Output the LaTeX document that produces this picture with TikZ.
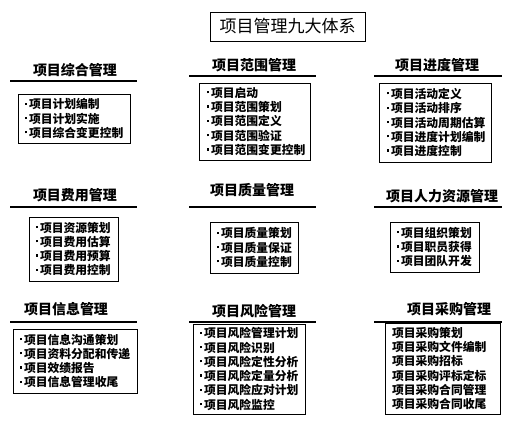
\documentclass[tikz,border=0pt]{standalone}
\usepackage{fontspec}
\setmainfont{Noto Sans CJK SC}
\newfontfamily\cjk{Noto Sans CJK SC}
\begin{document}
\begin{tikzpicture}[x=1pt,y=-1pt,
  titlebox/.style={draw,line width=0.9pt,inner sep=0pt,font=\cjk\fontsize{17}{20}\selectfont},
  heading/.style={inner sep=0pt,font=\cjk\bfseries\fontsize{14}{16}\selectfont},
  rule/.style={line width=1.2pt},
  itembox/.style={draw,line width=0.9pt,inner ysep=0pt,inner xsep=7pt,align=left,
    font=\cjk\bfseries\fontsize{11.8}{14.3}\selectfont}]
\useasboundingbox (0,0) rectangle (523,422);
\newcommand{\bt}{\makebox[4pt][l]{\rule[4pt]{2.2pt}{2.2pt}}}
% title
\node[titlebox,minimum width=155pt,minimum height=29pt] (title) at (287.5,26.5) {项目管理九大体系};
% headings
\node[heading] (h11) at (75,70) {项目综合管理};
\node[heading] (h12) at (254,65) {项目范围管理};
\node[heading] (h13) at (437,65) {项目进度管理};
\node[heading] (h21) at (75,195) {项目费用管理};
\node[heading] (h22) at (252,190) {项目质量管理};
\node[heading] (h23) at (442,196) {项目人力资源管理};
\node[heading] (h31) at (66,309) {项目信息管理};
\node[heading] (h32) at (254,311) {项目风险管理};
\node[heading] (h33) at (449,309) {项目采购管理};
% rules
\draw[rule] (10,81) -- (137,81);
\draw[rule] (189,76) -- (316,76);
\draw[rule] (374,76) -- (502,76);
\draw[rule] (10,207) -- (137,207);
\draw[rule] (189,207) -- (316,207);
\draw[rule] (374,207) -- (502,207);
\draw[rule] (10,322) -- (137,322);
\draw[rule] (189,322) -- (316,322);
\draw[rule] (374,322) -- (502,322);
% boxes
\node[itembox,minimum width=112pt,minimum height=49pt,text width=98pt] (b11) at (74,118.5)
 {\bt 项目计划编制\\\bt 项目计划实施\\\bt 项目综合变更控制};
\node[itembox,minimum width=111pt,minimum height=77pt,text width=95pt,inner xsep=8pt] (b12) at (254.5,121.5)
 {\bt 项目启动\\\bt 项目范围策划\\\bt 项目范围定义\\\bt 项目范围验证\\\bt 项目范围变更控制};
\node[itembox,minimum width=112pt,minimum height=79pt,text width=96pt,inner xsep=8pt] (b13) at (435,122.5)
 {\bt 项目活动定义\\\bt 项目活动排序\\\bt 项目活动周期估算\\\bt 项目进度计划编制\\\bt 项目进度控制};
\node[itembox,minimum width=89pt,minimum height=64pt,text width=75pt] (b21) at (73.5,249)
 {\bt 项目资源策划\\\bt 项目费用估算\\\bt 项目费用预算\\\bt 项目费用控制};
\node[itembox,minimum width=88pt,minimum height=51pt,text width=74pt] (b22) at (254,247.5)
 {\bt 项目质量策划\\\bt 项目质量保证\\\bt 项目质量控制};
\node[itembox,minimum width=89pt,minimum height=50pt,text width=75pt] (b23) at (434.5,247)
 {\bt 项目组织策划\\\bt 项目职员获得\\\bt 项目团队开发};
\node[itembox,minimum width=124pt,minimum height=64pt,text width=110pt] (b31) at (75,361)
 {\bt 项目信息沟通策划\\\bt 项目资料分配和传递\\\bt 项目效绩报告\\\bt 项目信息管理收尾};
\node[itembox,minimum width=112pt,minimum height=90pt,text width=98pt] (b32) at (249,369)
 {\bt 项目风险管理计划\\\bt 项目风险识别\\\bt 项目风险定性分析\\\bt 项目风险定量分析\\\bt 项目风险应对计划\\\bt 项目风险监控};
\node[itembox,minimum width=115pt,minimum height=91pt,text width=101pt] (b33) at (442.5,368.5)
 {项目采购策划\\项目采购文件编制\\项目采购招标\\项目采购评标定标\\项目采购合同管理\\项目采购合同收尾};
\end{tikzpicture}
\end{document}
